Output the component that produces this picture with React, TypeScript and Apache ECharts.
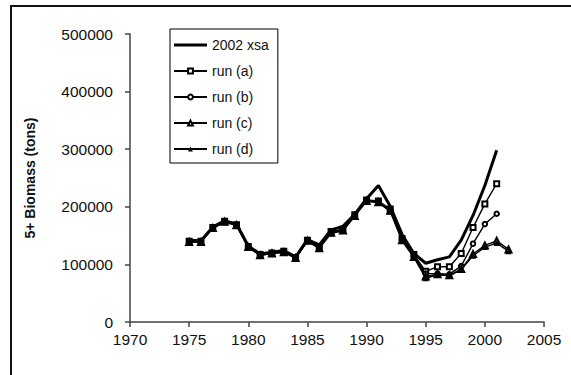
import React, { useEffect, useRef } from "react";
import * as echarts from "echarts";

// Assessment years and 5+ biomass estimates (tons)
const years = [
  1975, 1976, 1977, 1978, 1979, 1980, 1981, 1982, 1983, 1984, 1985, 1986, 1987, 1988,
  1989, 1990, 1991, 1992, 1993, 1994, 1995, 1996, 1997, 1998, 1999, 2000, 2001, 2002,
];

const xsa2002 = [
  142000, 141000, 165000, 176000, 170000, 132000, 118000, 121000, 124000, 113000, 143000, 134000, 160000, 166000,
  187000, 214000, 237000, 201000, 152000, 119000, 102000, 108000, 113000, 142000, 185000, 237000, 298000, null,
];
const runA = [
  140000, 140000, 164000, 175000, 169000, 131000, 117000, 120000, 123000, 112000, 142000, 130000, 157000, 161000,
  186000, 212000, 210000, 196000, 145000, 117000, 88000, 96000, 96000, 119000, 164000, 205000, 240000, null,
];
const runB = [
  140000, 140000, 163000, 174000, 169000, 130000, 117000, 120000, 122000, 112000, 141000, 129000, 156000, 160000,
  185000, 211000, 209000, 195000, 144000, 115000, 84000, 84000, 83000, 97000, 136000, 170000, 188000, null,
];
const runC = [
  139000, 139000, 163000, 174000, 168000, 130000, 116000, 119000, 121000, 111000, 141000, 128000, 155000, 159000,
  184000, 210000, 208000, 193000, 142000, 113000, 79000, 83000, 81000, 92000, 118000, 133000, 141000, 126000,
];
const runD = [
  139000, 139000, 163000, 173000, 168000, 129000, 116000, 119000, 121000, 111000, 140000, 128000, 154000, 158000,
  184000, 210000, 207000, 192000, 141000, 112000, 76000, 82000, 80000, 91000, 115000, 130000, 137000, 123000,
];

const xTicks = { min: 1970, max: 2005, step: 5 };
const yTicks = { min: 0, max: 500000, step: 100000 };

const FONT = "'Liberation Sans', Arial, sans-serif";

const pairs = (vals: (number | null)[]) =>
  years.map((y, i) => [y, vals[i]] as [number, number | null]).filter((p) => p[1] !== null);

export default function App() {
  const ref = useRef<HTMLDivElement>(null);

  useEffect(() => {
    if (!ref.current) return;
    const chart = echarts.init(ref.current, null, { renderer: "svg" });

    const runSeries = (name: string, vals: (number | null)[], symbol: string, size: number) => ({
      name,
      type: "line",
      data: pairs(vals),
      symbol,
      symbolSize: size,
      showSymbol: true,
      lineStyle: { color: "#000", width: 1.4 },
      itemStyle: { color: "#000", borderWidth: 1 },
      z: 3,
    });

    chart.setOption({
      animation: false,
      backgroundColor: "#fff",
      textStyle: { fontFamily: FONT },
      grid: { left: 130, top: 34, width: 414, height: 288, containLabel: false },
      graphic: [
        {
          type: "rect",
          shape: { x: 11, y: 6, width: 620, height: 420 },
          style: { fill: "none", stroke: "#111", lineWidth: 2 },
          silent: true,
          z: 0,
        },
      ],
      legend: {
        orient: "vertical",
        left: 170,
        top: 29,
        itemWidth: 33,
        itemHeight: 6,
        itemGap: 12,
        padding: [9, 9, 7, 3],
        borderColor: "#000",
        borderWidth: 1,
        backgroundColor: "#fff",
        textStyle: { fontFamily: FONT, fontSize: 14, color: "#111" },
        data: [
          { name: "2002 xsa", icon: "path://M0 0 H33 V3 H0 Z" },
          "run (a)",
          "run (b)",
          "run (c)",
          "run (d)",
        ],
      },
      xAxis: {
        type: "value",
        min: xTicks.min,
        max: xTicks.max,
        interval: xTicks.step,
        splitLine: { show: false },
        axisLine: { lineStyle: { color: "#444", width: 1.5 } },
        axisTick: { inside: false, length: 5, lineStyle: { color: "#444", width: 1.5 } },
        axisLabel: { fontFamily: FONT, fontSize: 15.5, color: "#111", margin: 9, formatter: (v: number) => String(v) },
      },
      yAxis: {
        type: "value",
        min: yTicks.min,
        max: yTicks.max,
        interval: yTicks.step,
        name: "5+ Biomass (tons)",
        nameLocation: "middle",
        nameGap: 93,
        nameTextStyle: { fontFamily: FONT, fontSize: 14, fontWeight: "bold", color: "#111" },
        splitLine: { show: false },
        axisLine: { show: true, lineStyle: { color: "#444", width: 1.5 } },
        axisTick: { show: true, inside: false, length: 5, lineStyle: { color: "#444", width: 1.5 } },
        axisLabel: { fontFamily: FONT, fontSize: 15.5, color: "#111", margin: 17, formatter: (v: number) => String(v) },
      },
      series: [
        {
          name: "2002 xsa",
          type: "line",
          data: pairs(xsa2002),
          symbol: "none",
          lineStyle: { color: "#000", width: 3 },
          itemStyle: { color: "#000" },
          z: 2,
        },
        runSeries("run (a)", runA, "emptyRect", 5),
        runSeries("run (b)", runB, "emptyCircle", 4.5),
        runSeries("run (c)", runC, "emptyTriangle", 6),
        runSeries("run (d)", runD, "triangle", 6),
      ],
    });

    return () => chart.dispose();
  }, []);

  return (
    <div
      ref={ref}
      style={{ position: "fixed", left: 0, top: 0, width: 571, height: 375, background: "#fff" }}
    />
  );
}
